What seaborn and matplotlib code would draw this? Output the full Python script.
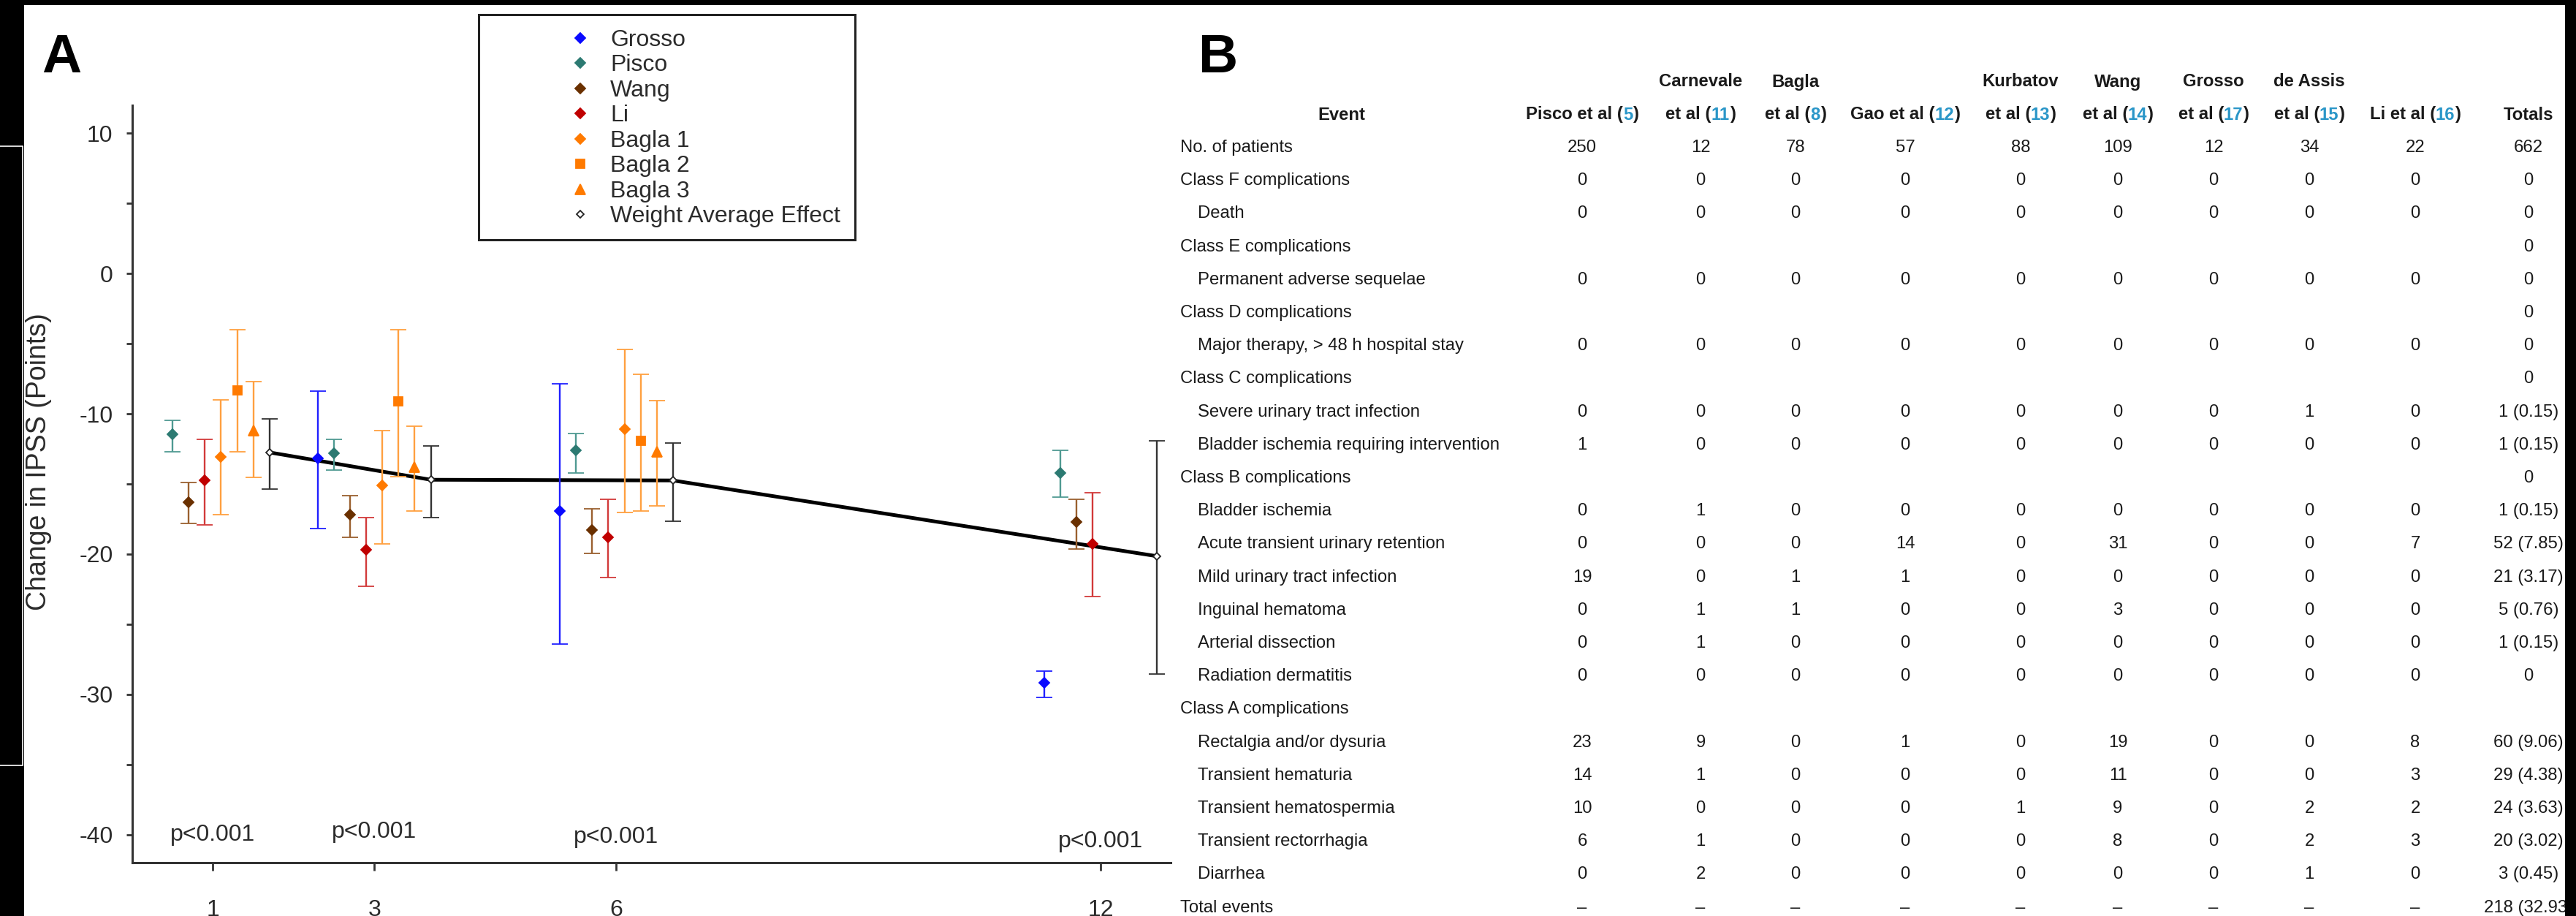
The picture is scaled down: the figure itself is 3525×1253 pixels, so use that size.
import numpy as np
import matplotlib
matplotlib.use("Agg")
import matplotlib.pyplot as plt
from matplotlib import font_manager
from matplotlib.lines import Line2D
from matplotlib.patches import Rectangle
import seaborn as sns

# ---------------- panel A data (change in IPSS, points) ----------------
months = [1, 3, 6, 12]
nan = np.nan

grosso_mean = [nan, -13.15, -16.95, -29.2]
grosso_lo = [nan, -18.2, -26.4, -30.2]
grosso_hi = [nan, -8.4, -7.85, -28.35]

pisco_mean = [-11.45, -12.8, -12.6, -14.2]
pisco_lo = [-12.7, -14.0, -14.2, -15.95]
pisco_hi = [-10.45, -11.8, -11.4, -12.6]

wang_mean = [-16.3, -17.2, -18.3, -17.7]
wang_lo = [-17.8, -18.8, -19.95, -19.65]
wang_hi = [-14.9, -15.85, -16.75, -16.1]

li_mean = [-14.75, -19.7, -18.8, -19.25]
li_lo = [-17.9, -22.3, -21.65, -23.05]
li_hi = [-11.8, -17.4, -16.1, -15.65]

bagla1_mean = [-13.05, -15.1, -11.1, nan]
bagla1_lo = [-17.2, -19.3, -17.05, nan]
bagla1_hi = [-9.0, -11.2, -5.4, nan]

bagla2_mean = [-8.35, -9.1, -11.9, nan]
bagla2_lo = [-12.7, -14.5, -16.95, nan]
bagla2_hi = [-4.0, -4.0, -7.2, nan]

bagla3_mean = [-11.2, -13.8, -12.7, nan]
bagla3_lo = [-14.55, -16.95, -16.55, nan]
bagla3_hi = [-7.7, -10.9, -9.05, nan]

wae_mean = [-12.75, -14.7, -14.75, -20.15]
wae_lo = [-15.35, -17.4, -17.65, -28.55]
wae_hi = [-10.35, -12.3, -12.1, -11.9]

p_text = ["p<0.001", "p<0.001", "p<0.001", "p<0.001"]
p_y = [-40.0, -39.8, -40.2, -40.5]

# ---------------- panel B data (complications table) ----------------
col_top = ["", "Carnevale", "Bagla", "", "Kurbatov", "Wang", "Grosso", "de Assis", "", ""]
col_bottom = ["Pisco et al", "et al", "et al", "Gao et al", "et al", "et al",
              "et al", "et al", "Li et al", "Totals"]
col_refs = ["5", "11", "8", "12", "13", "14", "17", "15", "16", ""]

event_labels = [
    "No. of patients", "Class F complications", "Death", "Class E complications",
    "Permanent adverse sequelae", "Class D complications",
    "Major therapy, > 48 h hospital stay", "Class C complications",
    "Severe urinary tract infection", "Bladder ischemia requiring intervention",
    "Class B complications", "Bladder ischemia", "Acute transient urinary retention",
    "Mild urinary tract infection", "Inguinal hematoma", "Arterial dissection",
    "Radiation dermatitis", "Class A complications", "Rectalgia and/or dysuria",
    "Transient hematuria", "Transient hematospermia", "Transient rectorrhagia",
    "Diarrhea", "Total events",
]
event_indent = [0, 0, 1, 0, 1, 0, 1, 0, 1, 1, 0, 1, 1, 1, 1, 1, 1, 0, 1, 1, 1, 1, 1, 0]
Z9 = ["0"] * 9
B9 = [""] * 9
event_values = [
    ["250", "12", "78", "57", "88", "109", "12", "34", "22", "662"],
    Z9 + ["0"],
    Z9 + ["0"],
    B9 + ["0"],
    Z9 + ["0"],
    B9 + ["0"],
    Z9 + ["0"],
    B9 + ["0"],
    ["0", "0", "0", "0", "0", "0", "0", "1", "0", "1 (0.15)"],
    ["1", "0", "0", "0", "0", "0", "0", "0", "0", "1 (0.15)"],
    B9 + ["0"],
    ["0", "1", "0", "0", "0", "0", "0", "0", "0", "1 (0.15)"],
    ["0", "0", "0", "14", "0", "31", "0", "0", "7", "52 (7.85)"],
    ["19", "0", "1", "1", "0", "0", "0", "0", "0", "21 (3.17)"],
    ["0", "1", "1", "0", "0", "3", "0", "0", "0", "5 (0.76)"],
    ["0", "1", "0", "0", "0", "0", "0", "0", "0", "1 (0.15)"],
    Z9 + ["0"],
    B9 + [""],
    ["23", "9", "0", "1", "0", "19", "0", "0", "8", "60 (9.06)"],
    ["14", "1", "0", "0", "0", "11", "0", "0", "3", "29 (4.38)"],
    ["10", "0", "0", "0", "1", "9", "0", "2", "2", "24 (3.63)"],
    ["6", "1", "0", "0", "0", "8", "0", "2", "3", "20 (3.02)"],
    ["0", "2", "0", "0", "0", "0", "0", "1", "0", "3 (0.45)"],
    ["\u2013"] * 9 + ["218 (32.93)"],
]

# ---------------- styling ----------------
sns.set_style("white")
plt.rcParams["font.family"] = ["Liberation Sans", "DejaVu Sans"]
plt.rcParams["axes.unicode_minus"] = False

installed = {f.name for f in font_manager.fontManager.ttflist}
if "Liberation Sans Narrow" in installed:
    narrow = ["Liberation Sans Narrow", "DejaVu Sans"]
    nscale = 1.0
else:
    narrow = ["Liberation Sans", "DejaVu Sans"]
    nscale = 0.82

W, H = 3525, 1253
fig = plt.figure(figsize=(W / 100, H / 100), dpi=100, facecolor="white")


def fx(x):
    return x / W


def fy(y):
    return 1 - y / H


txt = "#2b2b2b"

# ---------------- panel A ----------------
ax = fig.add_axes([fx(181), fy(1180), (1602 - 181) / W, (1180 - 144) / H])

series = [
    ("Grosso", grosso_mean, grosso_lo, grosso_hi, "D", 7, "#0a0aff", "#2020ff"),
    ("Pisco", pisco_mean, pisco_lo, pisco_hi, "D", 7, "#2c7a72", "#4f9a92"),
    ("Wang", wang_mean, wang_lo, wang_hi, "D", 7, "#6a3000", "#9a602f"),
    ("Li", li_mean, li_lo, li_hi, "D", 7, "#c00000", "#d23a3a"),
    ("Bagla 1", bagla1_mean, bagla1_lo, bagla1_hi, "D", 7, "#ff7a00", "#ffa040"),
    ("Bagla 2", bagla2_mean, bagla2_lo, bagla2_hi, "s", 9, "#ff7a00", "#ffa040"),
    ("Bagla 3", bagla3_mean, bagla3_lo, bagla3_hi, "^", 9.5, "#ff7a00", "#ffa040"),
    ("Weight Average Effect", wae_mean, wae_lo, wae_hi, "D", 5.5, "#222222", "#333333"),
]
offsets = np.linspace(-0.7, 0.7, len(series))

# weighted average trend line
sns.lineplot(x=np.array(months) + offsets[-1], y=wae_mean, color="black",
             linewidth=3.6, ax=ax, zorder=3)

handles = []
for (name, mean, lo, hi, mk, ms, mcol, ecol), off in zip(series, offsets):
    mean = np.array(mean)
    lo = np.array(lo)
    hi = np.array(hi)
    ok = ~np.isnan(mean)
    x = np.array(months)[ok] + off
    face = "white" if name.startswith("Weight") else mcol
    ax.errorbar(x, mean[ok], yerr=[mean[ok] - lo[ok], hi[ok] - mean[ok]],
                fmt=mk, ms=ms, color=mcol, mfc=face, mec=mcol, mew=1.3,
                ecolor=ecol, elinewidth=1.7, capsize=8, capthick=1.7, zorder=4)
    handles.append(Line2D([], [], ls="none", marker=mk, ms=ms, color=mcol,
                          mfc=face, mec=mcol, mew=1.3, label=name))

for m, s, yv in zip(months, p_text, p_y):
    ax.text(m, yv, s, ha="center", va="center", fontsize=23, color=txt)

ax.set_xlim(0, 12.87)
ax.set_ylim(-42, 12)
ax.set_xticks(months)
ax.set_xticklabels([str(m) for m in months])
ax.set_yticks([-40, -30, -20, -10, 0, 10])
ax.set_yticks([-35, -25, -15, -5, 5], minor=True)
sns.despine(ax=ax)
for sp in ("left", "bottom"):
    ax.spines[sp].set_linewidth(2.2)
    ax.spines[sp].set_color("#333333")
ax.tick_params(axis="y", which="both", left=True, direction="out", length=6,
               width=2, color="#333333", labelsize=23, labelcolor=txt, pad=13)
ax.tick_params(axis="x", bottom=True, direction="out", length=8, width=2,
               color="#333333", labelsize=23, labelcolor=txt, pad=28)
ax.set_xlabel("")
ax.set_ylabel("")
fig.text(fx(53), fy(632), "Change in IPSS (Points)", rotation=90, ha="center",
         va="center", fontsize=27, color=txt)

# legend with square frame
fig.add_artist(Rectangle((fx(655), fy(328)), (1170 - 655) / W, (328 - 20) / H,
                         transform=fig.transFigure, fill=False, ec="#222222", lw=2.2))
ax.legend(handles=handles, loc="upper left", bbox_to_anchor=(fx(768), fy(24)),
          bbox_transform=fig.transFigure, frameon=False, borderpad=0,
          handlelength=0.6, handletextpad=1.0, labelspacing=0.14,
          prop={"family": ["Liberation Sans", "DejaVu Sans"], "size": 23})
for t in ax.get_legend().get_texts():
    t.set_color(txt)

# ---------------- panel B ----------------
renderer = fig.canvas.get_renderer()
tsize = 21 * nscale
col_x = [2165, 2327, 2457, 2607, 2765, 2898, 3029, 3160, 3305, 3460]
row_y0, row_dy = 202, 45.2
ref_color = "#2a96c8"
tcol = "#1a1a1a"


def pieced_text(xc, y, parts, weight="bold"):
    items = [fig.text(0, fy(y), s, color=c, fontsize=tsize, fontweight=weight,
                      family=narrow, ha="left", va="center") for s, c in parts]
    widths = [t.get_window_extent(renderer).width for t in items]
    x = xc - sum(widths) / 2
    for t, w in zip(items, widths):
        t.set_x(fx(x))
        x += w


fig.text(fx(1836), fy(157), "Event", ha="center", va="center", fontsize=tsize,
         fontweight="bold", family=narrow, color=tcol)
for xc, top, bot, ref in zip(col_x, col_top, col_bottom, col_refs):
    if top:
        fig.text(fx(xc), fy(112), top, ha="center", va="center", fontsize=tsize,
                 fontweight="bold", family=narrow, color=tcol)
    if ref:
        pieced_text(xc, 157, [(bot + " (", tcol), (ref, ref_color), (")", tcol)])
    else:
        fig.text(fx(xc), fy(157), bot, ha="center", va="center", fontsize=tsize,
                 fontweight="bold", family=narrow, color=tcol)

for i, (lab, ind, vals) in enumerate(zip(event_labels, event_indent, event_values)):
    y = row_y0 + i * row_dy
    fig.text(fx(1639 if ind else 1615), fy(y), lab, ha="left", va="center",
             fontsize=tsize, family=narrow, color=tcol)
    for xc, v in zip(col_x, vals):
        if v:
            fig.text(fx(xc), fy(y), v, ha="center", va="center", fontsize=tsize,
                     family=narrow, color=tcol)

# panel letters
fig.text(fx(57), fy(99), "A", fontsize=54, fontweight="bold", va="baseline", color="black")
fig.text(fx(1640), fy(99), "B", fontsize=54, fontweight="bold", va="baseline", color="black")

# black page borders of the source image
for x0, y0, w, h in [(0, 0, W, 7), (0, 0, 33, H), (3510, 0, 15, H)]:
    fig.add_artist(Rectangle((fx(x0), fy(y0 + h)), w / W, h / H, transform=fig.transFigure,
                             color="black", lw=0, zorder=10))
fig.add_artist(Rectangle((fx(-2), fy(1047)), 33 / W, (1047 - 200) / H,
                         transform=fig.transFigure, fill=False, ec="white", lw=1.2, zorder=11))

fig.savefig("out.png", dpi=100, facecolor="white")
